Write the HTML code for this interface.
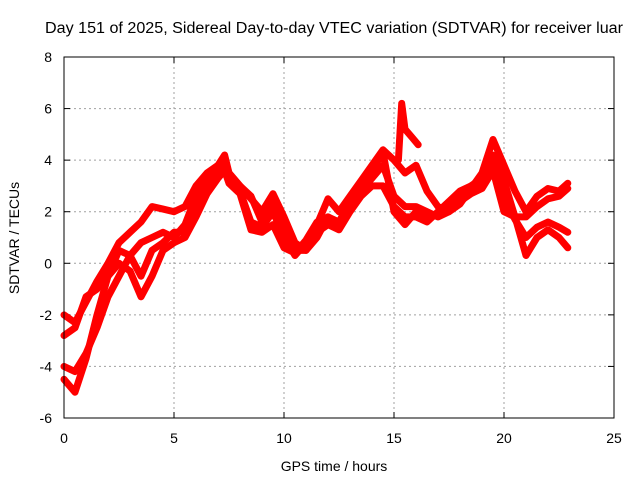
<!DOCTYPE html>
<html><head><meta charset="utf-8"><style>
body{margin:0;background:#fff;}
svg text{font-family:"Liberation Sans",sans-serif;font-size:14px;fill:#000;}
</style></head><body>
<svg id="c" width="640" height="480" xmlns="http://www.w3.org/2000/svg"></svg>
<script>
const hours=[0,0.5,1,1.5,2,2.5,3,3.5,4,4.5,5,5.5,6,6.5,7,7.3,7.5,8,8.5,9,9.5,10,10.5,11,11.5,12,12.5,13,13.5,14,14.5,15,15.5,16,16.5,17,17.5,18,18.5,19,19.5,20,20.5,21,21.5,22,22.5,22.9];
const track1=[-2,-2.3,-1.5,-0.7,0,0.8,1.2,1.6,2.2,2.1,2.0,2.2,3.0,3.5,3.8,4.2,3.5,3.0,2.5,2.0,2.7,1.8,0.8,0.5,1.5,2.5,2.0,2.6,3.2,3.8,4.4,4.0,3.5,3.8,2.8,2.2,2.0,2.3,2.9,3.5,4.8,3.8,2.8,2.0,2.6,2.9,2.8,3.1];
const track2=[-4,-4.2,-3.5,-2.5,-1.3,-0.5,0.3,0.8,1.0,1.2,1.0,1.5,2.6,3.2,3.6,4.0,3.5,3.0,2.6,1.6,2.4,1.3,0.5,0.5,1.0,1.8,1.5,2.2,2.8,3.3,3.8,2.6,2.2,2.2,2.0,1.8,2.0,2.6,3.0,3.0,4.2,3.2,1.8,0.3,1.0,1.3,1.0,0.6];
const track3=[-4.5,-5,-3.7,-2,-0.5,0.5,0.3,-0.5,0.5,0.8,1.2,1.2,2.2,3.0,3.4,3.8,3.2,2.8,1.6,1.4,2.0,1.0,0.3,0.8,1.2,1.5,1.3,2.0,2.6,3.0,3.0,2.2,1.8,1.8,1.6,2.0,2.4,2.8,3.0,3.3,4.0,2.5,1.7,1.0,1.4,1.6,1.4,1.2];
const track4=[-2.8,-2.5,-1.3,-1.0,-0.5,0.0,-0.3,-1.3,-0.5,0.5,0.8,1.0,1.8,2.7,3.3,3.6,3.1,2.7,1.3,1.2,1.5,0.6,0.4,0.9,1.6,1.8,1.6,2.4,3.0,3.6,4.3,2.0,1.5,2.0,1.8,1.9,2.2,2.4,2.7,2.9,3.6,2.0,1.8,1.8,2.2,2.5,2.6,2.9];
const spikeHours=[15.2,15.35,15.5,15.8,16.1];
const spikeVals=[4.0,6.2,5.2,4.9,4.6];
const xTicks=[0,5,10,15,20,25];
const yTicks=[-6,-4,-2,0,2,4,6,8];

const NS="http://www.w3.org/2000/svg",svg=document.getElementById('c');
const L=64,R=614,T=57,B=418;
const xs=h=>L+(h-0)/25*(R-L);
const ys=v=>B-(v+6)/14*(B-T);
function mk(t,a,p){const e=document.createElementNS(NS,t);for(const k in a)e.setAttribute(k,a[k]);(p||svg).appendChild(e);return e;}

const grid=mk('g',{});


xTicks.forEach(t=>{
  if(t>0&&t<25){mk('line',{x1:xs(t),x2:xs(t),y1:T,y2:B,stroke:'#a0a0a0','stroke-dasharray':'2,3'},grid);}
  mk('line',{x1:xs(t),x2:xs(t),y1:B,y2:B-6,stroke:'#000'},grid);
  mk('line',{x1:xs(t),x2:xs(t),y1:T,y2:T+6,stroke:'#000'},grid);
  const tx=mk('text',{x:xs(t),y:443,'text-anchor':'middle'});
  
  
  tx.textContent=t;
});
yTicks.forEach(t=>{
  if(t>-6&&t<8)mk('line',{x1:L,x2:R,y1:ys(t),y2:ys(t),stroke:'#a0a0a0','stroke-dasharray':'2,3'},grid);
  mk('line',{x1:L,x2:L+6,y1:ys(t),y2:ys(t),stroke:'#000'},grid);
  mk('line',{x1:R,x2:R-6,y1:ys(t),y2:ys(t),stroke:'#000'},grid);
  const tx=mk('text',{x:52,y:ys(t)+5,'text-anchor':'end'});
  
  
  tx.textContent=t;
});

function series(hs,vs,name){
  const pts=hs.map((h,i)=>xs(h).toFixed(1)+','+ys(vs[i]).toFixed(1)).join(' ');
  const p=mk('polyline',{points:pts,fill:'none',stroke:'#ff0000','stroke-width':7,'stroke-linejoin':'round','stroke-linecap':'round'});
  
  
}
series(hours,track1,'series-track-1');
series(hours,track2,'series-track-2');
series(hours,track3,'series-track-3');
series(hours,track4,'series-track-4');
series(spikeHours,spikeVals,'series-spike');

const fr=mk('rect',{x:L,y:T,width:R-L,height:B-T,fill:'none',stroke:'#000'});



const title=mk('text',{x:45,y:33,textLength:578,lengthAdjust:'spacingAndGlyphs',style:'font-size:15.5px'});


title.textContent='Day 151 of 2025, Sidereal Day-to-day VTEC variation (SDTVAR) for receiver luar';
const xt=mk('text',{x:334,y:471,'text-anchor':'middle'});


xt.textContent='GPS time / hours';
const yt=mk('text',{x:0,y:0,'text-anchor':'middle',transform:'translate(19,238) rotate(-90)'});


yt.textContent='SDTVAR / TECUs';
</script>
</body></html>
